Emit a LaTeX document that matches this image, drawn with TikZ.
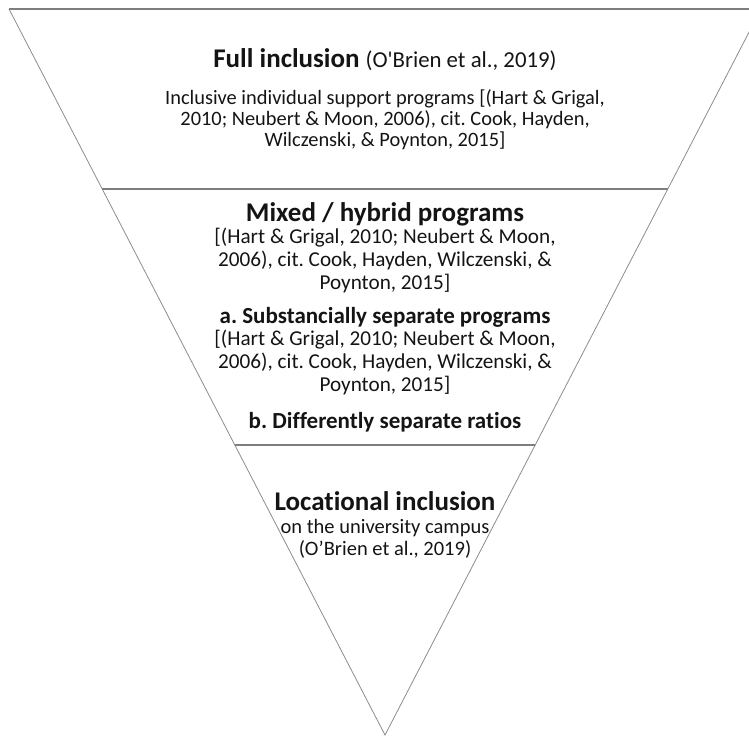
\documentclass[tikz,border=0pt]{standalone}
\usepackage{fontspec}
\setmainfont{Carlito}[Ligatures=CommonOff]
\newfontfamily\straightfont{Carlito}[Ligatures={TeXOff,CommonOff}]
\frenchspacing
\usetikzlibrary{calc,positioning}
\definecolor{edgegray}{RGB}{140,140,140}
\definecolor{inktext}{RGB}{20,20,20}

\begin{document}
\begin{tikzpicture}[x=1pt,y=1pt,
		every node/.style={inner sep=0pt,outer sep=0pt,text=inktext,align=center},
		side/.style={draw=edgegray,line width=0.8pt},
		divider/.style={draw=edgegray!90!black,line width=1.3pt},
		head/.style={font=\fontsize{27}{30}\selectfont\bfseries,anchor=base},
		subhead/.style={font=\fontsize{23}{26}\selectfont\bfseries,anchor=base},
		refs/.style={anchor=base}]
	\useasboundingbox (0,0) rectangle (749,-737);
	% funnel outline
	\coordinate (tl) at (9,-9);
	\coordinate (tr) at (761,-9);
	\coordinate (tip) at (385,-735);
	\draw[side] (tl) -- (tip) -- (tr);
	\draw[divider] (tl) -- (tr);
	\draw[divider] ($(tl)!0.2479!(tip)$) -- ($(tr)!0.2479!(tip)$);
	\draw[divider] ($(tl)!0.6006!(tip)$) -- ($(tr)!0.6006!(tip)$);
	% top level (refs nodes sit on their last baseline)
	\node[head] (full) at (385,-67)
	{Full inclusion {\fontsize{22.8}{26}\selectfont\mdseries (O{\straightfont'}Brien et al., 2019)}};
	\node[refs,font=\fontsize{20.4}{21}\selectfont] (fullrefs) at ([yshift=-79pt]full.base)
	{Inclusive individual support programs [(Hart \& Grigal,\\
		2010; Neubert \& Moon, 2006), cit. Cook, Hayden,\\
		Wilczenski, \& Poynton, 2015]};
	% middle level
	\node[head] (mixed) at (385,-221) {Mixed / hybrid programs};
	\node[refs,font=\fontsize{21.2}{23}\selectfont] (mixedrefs) at ([yshift=-68pt]mixed.base)
	{[(Hart \& Grigal, 2010; Neubert \& Moon,\\
		2006), cit. Cook, Hayden, Wilczenski, \&\\
		Poynton, 2015]};
	\node[subhead] (sepa) at ([yshift=-102pt]mixed.base) {a. Substancially separate programs};
	\node[refs,font=\fontsize{21.2}{23}\selectfont] (separefs) at ([yshift=-68pt]sepa.base)
	{[(Hart \& Grigal, 2010; Neubert \& Moon,\\
		2006), cit. Cook, Hayden, Wilczenski, \&\\
		Poynton, 2015]};
	\node[subhead] (sepb) at ([yshift=-105pt]sepa.base) {b. Differently separate ratios};
	% bottom level
	\node[head] (locat) at (385,-510) {Locational inclusion};
	\node[refs,font=\fontsize{20.5}{22}\selectfont] (locatrefs) at ([yshift=-45pt]locat.base)
	{on the university campus\\
		(O’Brien et al., 2019)};
\end{tikzpicture}
\end{document}
